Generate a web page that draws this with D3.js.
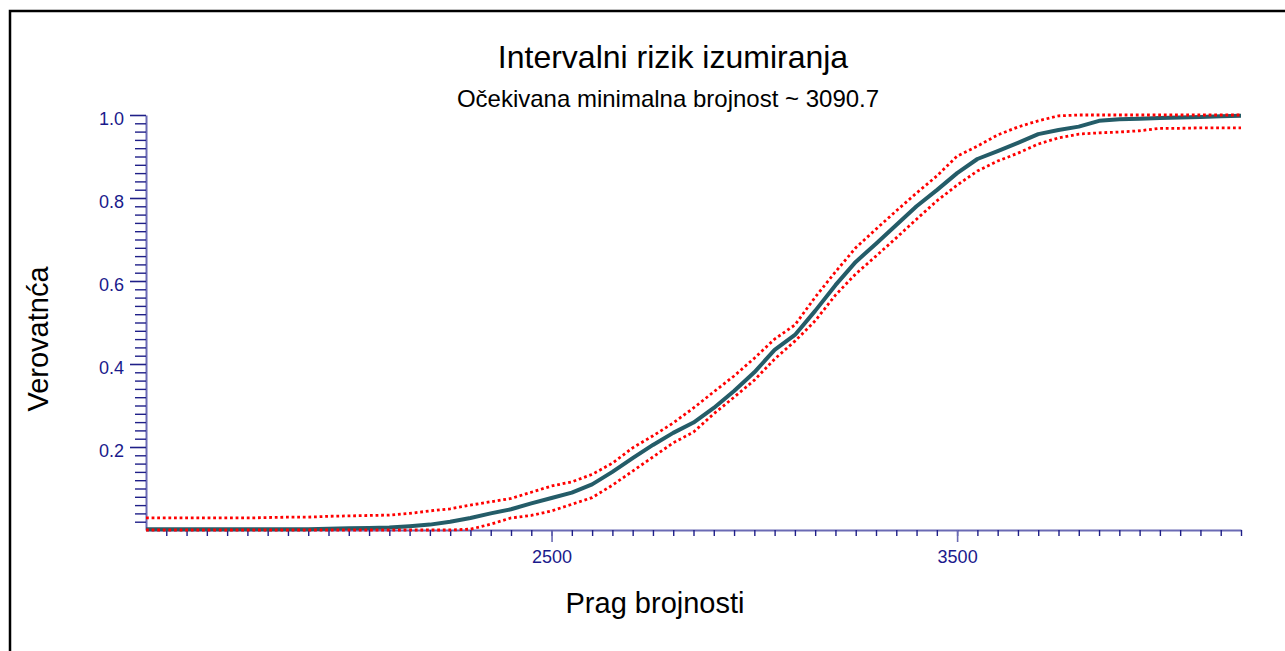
<!DOCTYPE html>
<html>
<head>
<meta charset="utf-8">
<script src="https://cdn.jsdelivr.net/npm/d3@7/dist/d3.min.js"></script>
<style>
  html, body { margin: 0; padding: 0; background: #fff; }
  svg { display: block; }
  text { font-family: "Liberation Sans", Arial, sans-serif; }
</style>
</head>
<body>
<svg id="chart" width="1285" height="651"></svg>
<script>
// Population threshold (x) and interval extinction risk with its confidence band
const threshold = [
  1500, 1550, 1600, 1650, 1700, 1750, 1800, 1850, 1900, 1950,
  2000, 2050, 2100, 2150, 2200, 2250, 2300, 2350, 2400, 2450,
  2500, 2550, 2600, 2650, 2700, 2750, 2800, 2850, 2900, 2950,
  3000, 3050, 3100, 3150, 3200, 3250, 3300, 3350, 3400, 3450,
  3500, 3550, 3600, 3650, 3700, 3750, 3800, 3850, 3900, 3950,
  4000, 4050, 4100, 4150, 4200
];
const riskMean = [
  0.002, 0.002, 0.002, 0.002, 0.002, 0.002, 0.002, 0.002, 0.002, 0.003,
  0.004, 0.005, 0.006, 0.009, 0.013, 0.020, 0.029, 0.040, 0.050, 0.064,
  0.077, 0.090, 0.110, 0.140, 0.173, 0.205, 0.234, 0.259, 0.294, 0.335,
  0.380, 0.434, 0.470, 0.528, 0.590, 0.646, 0.690, 0.735, 0.780, 0.819,
  0.860, 0.894, 0.913, 0.933, 0.954, 0.964, 0.972, 0.986, 0.990, 0.991,
  0.993, 0.994, 0.995, 0.997, 0.998
];
const riskUpper = [
  0.029, 0.029, 0.029, 0.029, 0.029, 0.029, 0.030, 0.031, 0.031, 0.033,
  0.034, 0.035, 0.036, 0.040, 0.046, 0.051, 0.060, 0.068, 0.076, 0.091,
  0.106, 0.116, 0.134, 0.161, 0.198, 0.227, 0.258, 0.294, 0.333, 0.371,
  0.414, 0.460, 0.494, 0.561, 0.622, 0.680, 0.725, 0.769, 0.812, 0.853,
  0.901, 0.925, 0.952, 0.971, 0.986, 0.998, 1.000, 1.000, 1.000, 1.000,
  1.000, 1.000, 1.000, 1.000, 1.000
];
const riskLower = [
  0.000, 0.000, 0.000, 0.000, 0.000, 0.000, 0.000, 0.000, 0.000, 0.000,
  0.000, 0.000, 0.000, 0.000, 0.000, 0.000, 0.002, 0.014, 0.029, 0.035,
  0.046, 0.062, 0.078, 0.108, 0.142, 0.176, 0.210, 0.236, 0.280, 0.320,
  0.361, 0.412, 0.455, 0.504, 0.566, 0.617, 0.660, 0.704, 0.749, 0.793,
  0.831, 0.865, 0.889, 0.908, 0.930, 0.945, 0.954, 0.957, 0.959, 0.962,
  0.968, 0.968, 0.969, 0.969, 0.969
];

// Axis ticks
const xMajorTicks = [2500, 3500];
const xMinorTicks = d3.range(1550, 4201, 50);
const yMajorTicks = [0.2, 0.4, 0.6, 0.8, 1.0];
const yMinorTicks = d3.range(1, 51).map(i => +(i * 0.02).toFixed(2));

const titleText = "Intervalni rizik izumiranja";
const subtitleText = "Očekivana minimalna brojnost ~ 3090.7";
const xTitle = "Prag brojnosti";
const yTitle = "Verovatnća";

const svg = d3.select("#chart");
const W = 1285, H = 651;
const margin = { left: 146, right: W - 1241, top: 115, bottom: H - 530 };

// Outer frame
svg.append("rect")
  .attr("x", 10).attr("y", 11)
  .attr("width", 1300).attr("height", 700)
  .attr("fill", "none").attr("stroke", "#000").attr("stroke-width", 2.5);

const x = d3.scaleLinear().domain([1500, 4200]).range([margin.left, W - margin.right]);
const y = d3.scaleLinear().domain([0, 1]).range([H - margin.bottom, margin.top]);

const tickColor = "#1f1f88";
const axisColor = "#6a6ab4";
const labelColor = "#1a1a8c";
const fontStack = "Liberation Sans, Arial, sans-serif";

// X axis: minor ticks, then major ticks with labels
const gx = svg.append("g").attr("transform", `translate(0,${y(0)})`);
gx.append("g")
  .call(d3.axisBottom(x).tickValues(xMinorTicks).tickSize(6).tickFormat("").tickSizeOuter(0))
  .call(g => g.select(".domain").attr("stroke", axisColor).attr("stroke-width", 2))
  .call(g => g.selectAll(".tick line").attr("stroke", tickColor).attr("stroke-width", 1.4));
gx.append("g")
  .call(d3.axisBottom(x).tickValues(xMajorTicks).tickSize(12).tickPadding(8).tickFormat(d3.format("d")))
  .call(g => g.select(".domain").remove())
  .call(g => g.selectAll(".tick line").attr("stroke", axisColor).attr("stroke-width", 1.6))
  .call(g => g.selectAll(".tick text")
    .attr("fill", labelColor).attr("font-size", 18).attr("font-family", fontStack));

// Y axis
const gy = svg.append("g").attr("transform", `translate(${x(1500)},0)`);
gy.append("g")
  .call(d3.axisLeft(y).tickValues(yMinorTicks.filter(v => !yMajorTicks.some(m => Math.abs(m - v) < 1e-6)))
    .tickSize(11).tickFormat("").tickSizeOuter(0))
  .call(g => g.select(".domain").attr("stroke", axisColor).attr("stroke-width", 2))
  .call(g => g.selectAll(".tick line").attr("stroke", tickColor).attr("stroke-width", 1.4));
gy.append("g")
  .call(d3.axisLeft(y).tickValues(yMajorTicks).tickSize(16).tickPadding(6).tickFormat(d3.format(".1f")))
  .call(g => g.select(".domain").remove())
  .call(g => g.selectAll(".tick line").attr("stroke", tickColor).attr("stroke-width", 1.6))
  .call(g => g.selectAll(".tick text")
    .attr("fill", labelColor).attr("font-size", 18).attr("dy", "0.52em")
    .attr("font-family", fontStack));

// Curves
const pts = (vals) => threshold.map((t, i) => [t, vals[i]]);
const line = d3.line().x(d => x(d[0])).y(d => y(d[1]));

svg.append("path")
  .datum(pts(riskMean))
  .attr("d", line)
  .attr("fill", "none")
  .attr("stroke", "#245c68")
  .attr("stroke-width", 4)
  .attr("stroke-linejoin", "round");

[riskUpper, riskLower].forEach(vals => {
  svg.append("path")
    .datum(pts(vals))
    .attr("d", line)
    .attr("fill", "none")
    .attr("stroke", "#ff0000")
    .attr("stroke-width", 2.8)
    .attr("stroke-dasharray", "2.8,2.8");
});

// Titles
svg.append("text").attr("x", 673).attr("y", 68).attr("text-anchor", "middle")
  .attr("font-size", 32).attr("fill", "#000").text(titleText);
svg.append("text").attr("x", 668).attr("y", 107).attr("text-anchor", "middle")
  .attr("font-size", 24).attr("fill", "#000").text(subtitleText);
svg.append("text").attr("x", 655).attr("y", 613).attr("text-anchor", "middle")
  .attr("font-size", 29).attr("fill", "#000").text(xTitle);
svg.append("text")
  .attr("transform", `translate(48,339) rotate(-90)`)
  .attr("text-anchor", "middle")
  .attr("font-size", 29).attr("fill", "#000").text(yTitle);
</script>
</body>
</html>
